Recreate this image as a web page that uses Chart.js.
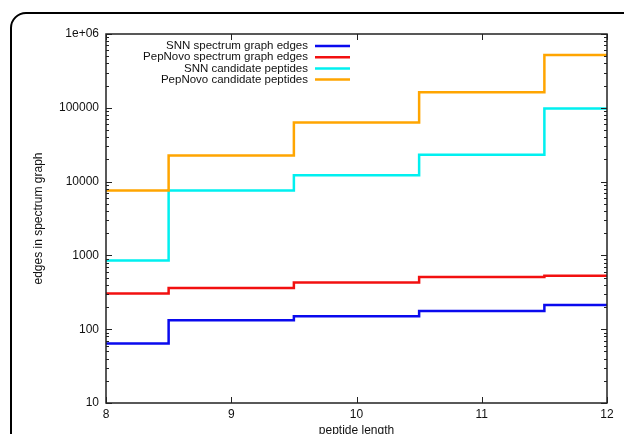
<!DOCTYPE html>
<html>
<head>
<meta charset="utf-8">
<script src="https://cdn.jsdelivr.net/npm/chart.js@4/dist/chart.umd.min.js"></script>
<style>
  html, body { margin: 0; padding: 0; background: #fff; overflow: hidden; }
  #wrap { position: relative; width: 624px; height: 434px; overflow: hidden; }
  #frame {
    position: absolute; left: 10px; top: 12px; width: 700px; height: 520px;
    border: 2.5px solid #000; border-radius: 16px;
  }
  #chart { position: absolute; left: 0; top: 0; }
</style>
</head>
<body>
<div id="wrap">
  <div id="frame"></div>
  <canvas id="chart" width="624" height="434"></canvas>
</div>
<script>
// peptide length on x, edges / candidates on a log y axis
const peptideLengths = [8, 9, 10, 11, 12];
const snnGraphEdges = [64, 132, 150, 176, 212];
const pepNovoGraphEdges = [305, 363, 431, 508, 529];
const snnCandidates = [850, 7600, 12200, 23200, 98000];
const pepNovoCandidates = [7600, 22500, 63000, 163000, 518000];

const seriesLabels = [
  'SNN spectrum graph edges',
  'PepNovo spectrum graph edges',
  'SNN candidate peptides',
  'PepNovo candidate peptides'
];
const seriesColors = ['#0a0aee', '#f21010', '#00f0f0', '#ffa500'];

const xTickValues = [8, 9, 10, 11, 12];
const yTickValues = [10, 100, 1000, 10000, 100000, 1000000];
const yTickLabels = ['10', '100', '1000', '10000', '100000', '1e+06'];

const FONT = '"Liberation Sans", Arial, sans-serif';
Chart.defaults.font.family = FONT;
Chart.defaults.font.size = 12;
Chart.defaults.color = '#111';

function toPoints(values) {
  return peptideLengths.map(function (x, i) { return { x: x, y: values[i] }; });
}

const allSeries = [snnGraphEdges, pepNovoGraphEdges, snnCandidates, pepNovoCandidates];

// gnuplot style frame with inward ticks + key drawn inside the plot
const gnuplotLook = {
  id: 'gnuplotLook',
  afterDatasetsDraw: function (chart) {
    const ctx = chart.ctx;
    const area = chart.chartArea;
    const xs = chart.scales.x;
    const ys = chart.scales.y;
    ctx.save();
    ctx.strokeStyle = '#222';
    ctx.lineWidth = 1.5;
    ctx.strokeRect(area.left, area.top, area.right - area.left, area.bottom - area.top);

    ctx.lineWidth = 1;
    ctx.beginPath();
    // y ticks, major and minor, both sides
    for (let d = 10; d <= 1000000; d *= 10) {
      for (let m = 1; m <= 9; m++) {
        const v = d * m;
        if (v > 1000000) break;
        const py = Math.round(ys.getPixelForValue(v)) + 0.5;
        const len = m === 1 ? 6 : 3;
        ctx.moveTo(area.left, py); ctx.lineTo(area.left + len, py);
        ctx.moveTo(area.right, py); ctx.lineTo(area.right - len, py);
      }
    }
    // x ticks
    xTickValues.forEach(function (v) {
      const px = Math.round(xs.getPixelForValue(v)) + 0.5;
      ctx.moveTo(px, area.bottom); ctx.lineTo(px, area.bottom - 6);
      ctx.moveTo(px, area.top); ctx.lineTo(px, area.top + 6);
    });
    ctx.stroke();

    // key
    ctx.font = '11.5px ' + FONT;
    ctx.textAlign = 'right';
    ctx.textBaseline = 'middle';
    chart.data.datasets.forEach(function (ds, i) {
      const y = area.top + 12 + i * 11.2;
      const textRight = area.left + 202;
      ctx.fillStyle = '#111';
      ctx.fillText(ds.label, textRight, y);
      ctx.strokeStyle = ds.borderColor;
      ctx.lineWidth = 2.5;
      ctx.beginPath();
      ctx.moveTo(textRight + 7, y);
      ctx.lineTo(textRight + 42, y);
      ctx.stroke();
    });
    ctx.restore();
  }
};

new Chart(document.getElementById('chart'), {
  type: 'line',
  data: {
    datasets: allSeries.map(function (values, i) {
      return {
        label: seriesLabels[i],
        data: toPoints(values),
        borderColor: seriesColors[i],
        backgroundColor: seriesColors[i],
        borderWidth: 2.5,
        pointRadius: 0,
        stepped: 'middle',
        fill: false,
        order: 3 - i
      };
    })
  },
  options: {
    responsive: false,
    animation: false,
    devicePixelRatio: 1,
    layout: { padding: { left: 24, top: 34, right: 17, bottom: 0 } },
    plugins: {
      legend: { display: false },
      tooltip: { enabled: false }
    },
    scales: {
      x: {
        type: 'linear',
        min: 8,
        max: 12,
        afterBuildTicks: function (scale) {
          scale.ticks = xTickValues.map(function (v) { return { value: v }; });
        },
        afterFit: function (scale) { scale.height = 31; },
        grid: { display: false, drawTicks: false },
        border: { display: false },
        ticks: { padding: 4, maxRotation: 0, autoSkip: false },
        title: {
          display: true,
          text: 'peptide length',
          padding: { top: 0, bottom: -4 }
        }
      },
      y: {
        type: 'logarithmic',
        min: 10,
        max: 1000000,
        afterBuildTicks: function (scale) {
          scale.ticks = yTickValues.map(function (v) { return { value: v }; });
        },
        afterFit: function (scale) { scale.width = 82; },
        grid: { display: false, drawTicks: false },
        border: { display: false },
        ticks: {
          padding: 7,
          autoSkip: false,
          callback: function (value, index) { return yTickLabels[index]; }
        },
        title: {
          display: true,
          text: 'edges in spectrum graph',
          padding: { top: 7, bottom: 0 }
        }
      }
    }
  },
  plugins: [gnuplotLook]
});
</script>
</body>
</html>
